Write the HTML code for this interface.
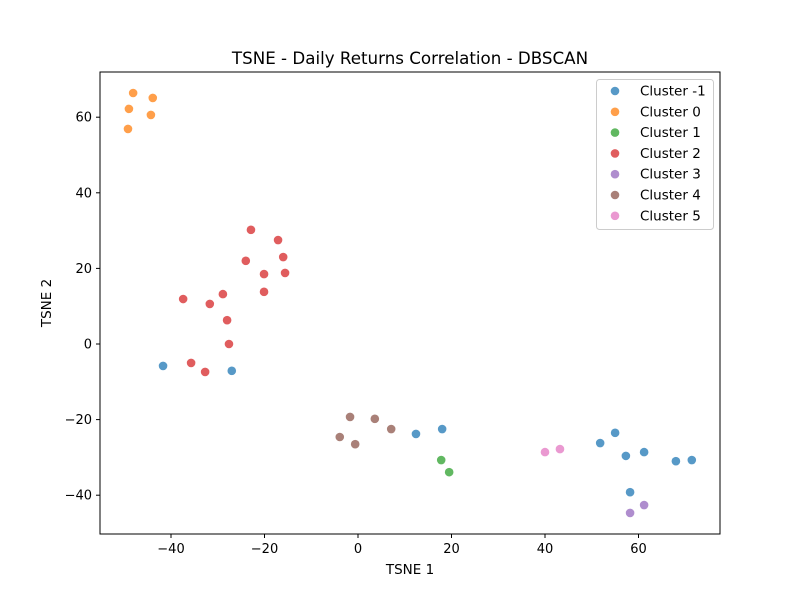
<!DOCTYPE html>
<html><head><meta charset="utf-8"><style>
body{margin:0;background:#fff;}
svg{display:block;font-family:"DejaVu Sans","Liberation Sans",sans-serif;}
</style></head><body>
<svg id="chart" width="800" height="600">
<rect width="800" height="600" fill="#fff"/>
<text x="410" y="64" text-anchor="middle" font-size="16.7">TSNE - Daily Returns Correlation - DBSCAN</text>
<text x="410" y="574" text-anchor="middle" font-size="13.5">TSNE 1</text>
<text x="51" y="303" text-anchor="middle" font-size="13.5" transform="rotate(-90 51 303)">TSNE 2</text>
<g id="ticks"></g>
<g id="points"></g>
<rect x="100" y="72" width="620" height="462" fill="none" stroke="#000" stroke-width="1"/>
<g id="legend"></g>
</svg>
<script>
const clusterNames=["Cluster -1","Cluster 0","Cluster 1","Cluster 2","Cluster 3","Cluster 4","Cluster 5"];
const clusterColors=["#1f77b4","#ff7f0e","#2ca02c","#d62728","#9467bd","#8c564b","#e377c2"];
const xTicks=[-40,-20,0,20,40,60];
const yTicks=[-40,-20,0,20,40,60];
const xs=[
[-41.7,-27.0,12.4,18.0,51.8,55.0,57.3,61.2,68.0,71.4,58.2],
[-48.1,-43.9,-49.0,-44.3,-49.2],
[17.8,19.5],
[-22.9,-17.1,-24.0,-16.0,-20.1,-15.6,-20.1,-37.4,-28.9,-31.7,-28.0,-27.6,-35.7,-32.7],
[61.2,58.2],
[-1.7,3.6,7.1,-3.9,-0.6],
[40.0,43.2]];
const ys=[
[-5.8,-7.1,-23.8,-22.5,-26.2,-23.5,-29.6,-28.6,-31.0,-30.7,-39.2],
[66.4,65.1,62.2,60.6,56.9],
[-30.7,-33.9],
[30.2,27.5,22.0,23.0,18.5,18.8,13.8,11.9,13.2,10.6,6.3,0.0,-5.0,-7.4],
[-42.6,-44.7],
[-19.3,-19.8,-22.5,-24.6,-26.5],
[-28.6,-27.8]];
const NS="http://www.w3.org/2000/svg";
function X(v){return 358+v*4.675;}
function Y(v){return 344-v*3.78;}
function mk(t,a,p){const e=document.createElementNS(NS,t);for(const k in a)e.setAttribute(k,a[k]);p.appendChild(e);return e;}
const tg=document.getElementById('ticks');
xTicks.forEach(v=>{
 const g=mk('g',{},tg);
 
 
 mk('line',{x1:X(v),x2:X(v),y1:534,y2:538,stroke:'#000'},g);
 const t=mk('text',{x:X(v),y:553,'text-anchor':'middle','font-size':13},g);
 t.textContent=v<0?'\u2212'+(-v):String(v);
});
yTicks.forEach(v=>{
 const g=mk('g',{},tg);
 
 
 mk('line',{x1:96,x2:100,y1:Y(v),y2:Y(v),stroke:'#000'},g);
 const t=mk('text',{x:92,y:Y(v)+4.5,'text-anchor':'end','font-size':13},g);
 t.textContent=v<0?'\u2212'+(-v):String(v);
});
const pg=document.getElementById('points');
xs.forEach((arr,c)=>{
 const g=mk('g',{},pg);
 
 
 arr.forEach((v,i)=>{
  const p=mk('circle',{cx:X(v),cy:Y(ys[c][i]),r:4.3,fill:clusterColors[c],'fill-opacity':0.75},g);
  
  
 });
});
const lg=document.getElementById('legend');


mk('rect',{x:596.5,y:79.5,width:117,height:150,rx:3,fill:'#fff','fill-opacity':0.8,stroke:'#ccc'},lg);
clusterNames.forEach((n,i)=>{
 const g=mk('g',{},lg);
 
 
 const y=91+i*20.8;
 mk('circle',{cx:615,cy:y,r:4.3,fill:clusterColors[i],'fill-opacity':0.75},g);
 const t=mk('text',{x:640,y:y+4.5,'font-size':13.5},g);
 t.textContent=n;
});
</script>
</body></html>
